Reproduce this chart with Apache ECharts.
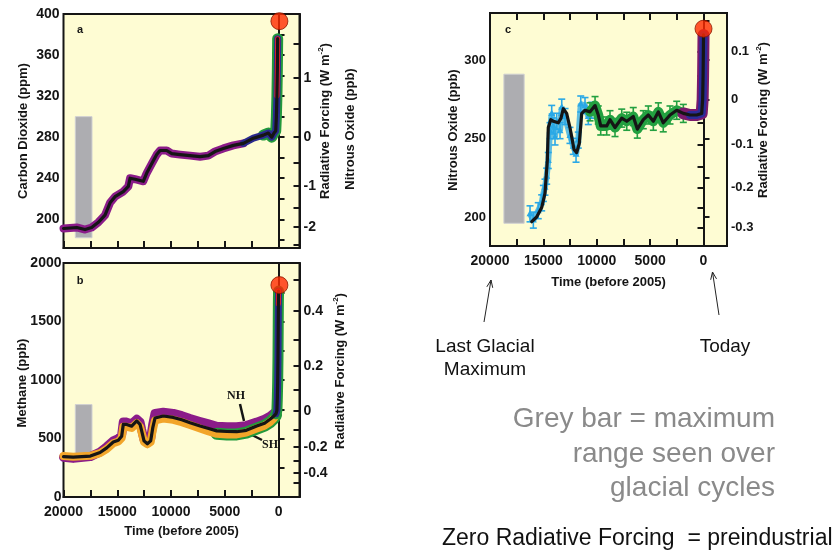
<!DOCTYPE html>
<html>
<head>
<meta charset="utf-8">
<script src="https://cdn.jsdelivr.net/npm/echarts@6/dist/echarts.min.js"></script>
<style>
  html, body { margin: 0; padding: 0; background: #fff; }
  #chart { width: 836px; height: 551px; }
</style>
</head>
<body>
<div id="chart"></div>
<script>
// ---- data (years before 2005, concentrations) ----
// a: carbon dioxide, ppm
const co2Years = [20000, 18770, 18000, 17380, 16760, 16140, 15670, 15210, 14440, 13970, 13810, 13350, 12580, 12260, 11800, 11330, 11020, 10400, 9930, 9160, 8230, 7300, 6530, 5910, 5130, 4200, 3270, 2340, 1410, 950, 630, 420, 260, 200, 150, 110, 80];
const co2Values = [191, 192, 190, 192, 197, 204, 216, 222, 227, 232, 240, 239, 237, 245, 254, 263, 267, 267, 264, 263, 262, 261, 262, 266, 269, 272, 274, 279, 282, 284, 280, 284, 286, 300, 320, 345, 376];

// b: methane, ppb (black = composite, NH / SH records)
const ch4Years = [20000, 19100, 17500, 16600, 15980, 15370, 14900, 14590, 14440, 14120, 13660, 13190, 12880, 12730, 12510, 12200, 11890, 11700, 11490, 10720, 9790, 9000, 8230, 7300, 6500, 5750, 4800, 3890, 3000, 2030, 1300, 790, 450, 230, 150, 110, 80, 50, 30, 15, 0];
const ch4Values = [345, 340, 350, 380, 420, 470, 485, 520, 620, 620, 605, 650, 620, 565, 480, 455, 480, 590, 675, 692, 680, 660, 635, 607, 585, 565, 560, 558, 570, 607, 630, 664, 690, 712, 740, 850, 980, 1200, 1450, 1650, 1760];
const ch4BandYears = [20000, 19100, 17500, 16600, 15980, 15370, 14900, 14590, 14440, 14120, 13660, 13190, 12880, 12730, 12510, 12200, 11890, 11700, 11490, 10720, 9790, 9000, 8230, 7300, 6500, 5750, 4800, 3890, 3000, 2030, 1300, 790, 450, 230];
const ch4NH = [340, 330, 345, 385, 430, 480, 500, 530, 640, 640, 625, 665, 640, 575, 490, 465, 500, 620, 715, 725, 715, 695, 670, 645, 625, 605, 600, 600, 610, 640, 665, 690, 715, 730];
const ch4SH = [350, 345, 352, 375, 410, 460, 475, 505, 600, 600, 590, 630, 600, 550, 470, 450, 470, 570, 655, 670, 660, 640, 615, 585, 560, 540, 535, 535, 550, 585, 610, 640, 670, 700];

// c: nitrous oxide, ppb
const n2oYears = [16090, 15630, 15160, 14850, 14630, 14540, 14310, 14070, 13600, 13350, 13130, 12820, 12510, 12130, 11880, 11630, 11410, 11100, 10630, 10160, 9860, 9630, 9070, 8760, 8290, 7660, 7190, 6580, 6200, 5640, 5170, 4700, 4230, 3770, 3140, 2510, 1890, 1260, 640, 170, 80, 40, 15, 0];
const n2oValues = [197, 200, 206, 215, 236, 257, 262, 261, 260, 263, 269, 266, 257, 243, 241, 247, 266, 268, 267, 271, 265, 258, 258, 262, 257, 263, 261, 264, 256, 262, 265, 261, 267, 260, 265, 268, 266, 265, 265, 266, 275, 290, 305, 316];
const n2oCyanYears = [16250, 15940, 15480, 15160, 15000, 14850, 14690, 14540, 14380, 14220, 14070, 13910, 13750, 13440, 13280, 12970, 12510, 12200, 11940, 11730, 11500, 11100, 10790, 10470];
const n2oCyanValues = [202, 198, 204, 209, 215, 219, 226, 236, 255, 266, 258, 251, 261, 255, 270, 264, 252, 245, 240, 249, 272, 271, 264, 268];

// today's values (red dots) and glacial-cycle ranges (grey bars)
const todayYears = [-80, -80, 0];
const todayValues = [393, 1811, 320];
const greyBarYears = [[18900, 17350], [18900, 17350], [18700, 16800]];
const greyBarRanges = [[182, 300], [320, 790], [196, 291]];

const xTicks = [20000, 17500, 15000, 12500, 10000, 7500, 5000, 2500, 0];
const xLabels = [20000, 15000, 10000, 5000, 0];

// radiative forcing scales (W m-2) for the right axes
const co2F = c => 5.35 * Math.log(c / 280);
const co2C = f => 280 * Math.exp(f / 5.35);
const ch4F = m => 0.0313 * (Math.sqrt(m) - 27.11);
const ch4C = f => Math.pow(27.11 + f / 0.0313, 2);
const n2oF = n => (Math.sqrt(n) - 16.583) / 8.95;
const n2oC = f => Math.pow(16.583 + 8.95 * f, 2);

const zip = (xs, ys) => xs.map((x, i) => [x, ys[i]]);
const pick = (xs, ys, lo, hi) => zip(xs, ys).filter(p => p[0] >= lo && p[0] <= hi);
const steps = (a, b, s) => { const r = []; for (let v = a; v <= b + 1e-9; v += s) r.push(+v.toFixed(3)); return r; };
const plain = v => String(Math.round(v));
const tenths = f => { const r = Math.round(f * 10) / 10; return String(r === 0 ? 0 : r); };

const FONT = "'Liberation Sans', Arial, Helvetica, sans-serif";
const INK = '#151515';
const CREAM = '#fefcd3';

const axisBase = {
  axisLine: { show: true, lineStyle: { color: INK, width: 2 } },
  axisTick: { show: true, inside: true, length: 6, lineStyle: { color: INK, width: 2 } },
  splitLine: { show: false },
  axisLabel: { color: INK, fontWeight: 'bold', fontSize: 14, fontFamily: FONT, margin: 4 }
};

function xAxis(grid, min, labels, extra) {
  return Object.assign({
    type: 'value', gridIndex: grid, min: min, max: 20000, inverse: true,
    axisLine: axisBase.axisLine,
    axisTick: Object.assign({}, axisBase.axisTick, { length: 7, customValues: xTicks }),
    splitLine: { show: false },
    axisLabel: labels ? Object.assign({}, axisBase.axisLabel, { margin: 8, customValues: xLabels, formatter: plain })
                      : { show: false, customValues: xLabels }
  }, extra || {});
}

function yAxis(grid, pos, min, max, labels, ticks, fmt, size, margin) {
  return {
    type: 'value', gridIndex: grid, position: pos, min: min, max: max,
    axisLine: axisBase.axisLine,
    axisTick: Object.assign({}, axisBase.axisTick, { customValues: ticks }),
    splitLine: { show: false },
    axisLabel: Object.assign({}, axisBase.axisLabel, {
      customValues: labels, formatter: fmt || plain, fontSize: size || 14, margin: margin || 4
    })
  };
}

function band(x, y, data, color, width, extra) {
  return Object.assign({
    type: 'line', xAxisIndex: x, yAxisIndex: y, data: data, symbol: 'none', silent: true,
    lineStyle: { color: color, width: width, cap: 'round', join: 'round' }
  }, extra || {});
}

function greyBar(x, y, i) {
  return band(x, y, [], '#000', 0, {
    markArea: {
      silent: true,
      itemStyle: { color: '#adadb1', borderColor: '#cfcfd2', borderWidth: 1 },
      data: [[{ coord: [greyBarYears[i][0], greyBarRanges[i][0]] },
              { coord: [greyBarYears[i][1], greyBarRanges[i][1]] }]]
    }
  });
}

function redDot(x, y, i) {
  return {
    type: 'scatter', xAxisIndex: x, yAxisIndex: y, clip: false, silent: true,
    symbolSize: 17, z: 5,
    itemStyle: { color: '#ff2a00', borderColor: '#8a1800', borderWidth: 1 },
    data: [[todayYears[i], todayValues[i]]]
  };
}

function errorBars(x, y, data, color, half) {
  return {
    type: 'custom', xAxisIndex: x, yAxisIndex: y, data: data, silent: true,
    encode: { x: 0, y: 1 },
    renderItem: function (params, api) {
      const p = api.coord([api.value(0), api.value(1)]);
      const s = { stroke: color, lineWidth: 1.6 };
      return {
        type: 'group', children: [
          { type: 'line', shape: { x1: p[0], y1: p[1] - half, x2: p[0], y2: p[1] + half }, style: s },
          { type: 'line', shape: { x1: p[0] - 3.5, y1: p[1] - half, x2: p[0] + 3.5, y2: p[1] - half }, style: s },
          { type: 'line', shape: { x1: p[0] - 3.5, y1: p[1] + half, x2: p[0] + 3.5, y2: p[1] + half }, style: s },
          { type: 'polygon', shape: { points: [[p[0], p[1] - 4], [p[0] - 3.5, p[1] + 2.5], [p[0] + 3.5, p[1] + 2.5]] }, style: { fill: color } }
        ]
      };
    }
  };
}

function vtext(x, y, text, extra) {
  return Object.assign({
    type: 'text', x: x, y: y, rotation: Math.PI / 2, silent: true,
    style: { text: text, fill: INK, fontFamily: FONT, fontWeight: 'bold', fontSize: 13, align: 'center', verticalAlign: 'middle' }
  }, extra || {});
}

function forcingTitle(x, y) {
  return {
    type: 'text', x: x, y: y, rotation: Math.PI / 2, silent: true,
    style: {
      text: '{t|Radiative Forcing (W m}{s|-2}{t|)}', align: 'center', verticalAlign: 'middle',
      rich: {
        t: { fill: INK, fontFamily: FONT, fontWeight: 'bold', fontSize: 13, lineHeight: 16 },
        s: { fill: INK, fontFamily: FONT, fontWeight: 'bold', fontSize: 8, lineHeight: 16, verticalAlign: 'top' }
      }
    }
  };
}

function text(x, y, str, size, color, align, extra) {
  return {
    type: 'text', x: x, y: y, silent: true,
    style: Object.assign({ text: str, fill: color, fontFamily: FONT, fontSize: size, align: align, verticalAlign: 'middle' }, extra || {})
  };
}

function arrow(x1, y1, x2, y2) {
  const a = Math.atan2(y2 - y1, x2 - x1), h = 8, w = 0.38;
  return [
    { type: 'line', silent: true, shape: { x1: x1, y1: y1, x2: x2, y2: y2 }, style: { stroke: '#222', lineWidth: 1 } },
    { type: 'polyline', silent: true, shape: { points: [[x2 - h * Math.cos(a - w), y2 - h * Math.sin(a - w)], [x2, y2], [x2 - h * Math.cos(a + w), y2 - h * Math.sin(a + w)]] },
      style: { stroke: '#222', lineWidth: 1, fill: null } }
  ];
}

const chart = echarts.init(document.getElementById('chart'));

const gridBox = { show: true, backgroundColor: CREAM, borderColor: INK, borderWidth: 2 };

chart.setOption({
  animation: false,
  textStyle: { fontFamily: FONT },
  grid: [
    Object.assign({ left: 63.5, top: 14, width: 236, height: 234 }, gridBox),
    Object.assign({ left: 63.5, top: 263, width: 236, height: 234 }, gridBox),
    Object.assign({ left: 490, top: 13, width: 237, height: 233 }, gridBox)
  ],
  xAxis: [
    xAxis(0, -1950, false),
    xAxis(1, -1950, true, {
      name: 'Time (before 2005)', nameLocation: 'middle', nameGap: 28,
      nameTextStyle: { color: INK, fontWeight: 'bold', fontSize: 13, fontFamily: FONT }
    }),
    xAxis(2, -2200, true, {
      name: 'Time (before 2005)', nameLocation: 'middle', nameGap: 30,
      nameTextStyle: { color: INK, fontWeight: 'bold', fontSize: 13, fontFamily: FONT }
    }),
    xAxis(2, -2200, false, { position: 'top' })
  ],
  yAxis: [
    yAxis(0, 'left', 172, 400, steps(200, 400, 40), steps(180, 400, 20)),
    yAxis(0, 'right', 172, 400, [-2, -1, 0, 1].map(co2C), steps(-2.5, 1.5, 0.5).map(co2C),
      v => plain(co2F(v))),
    yAxis(1, 'left', 0, 2000, steps(0, 2000, 500), steps(0, 2000, 250), null, 14, 2),
    yAxis(1, 'right', 0, 2000, [-0.4, -0.2, 0, 0.2, 0.4].map(ch4C), steps(-0.5, 0.5, 0.1).map(ch4C),
      v => tenths(ch4F(v))),
    yAxis(2, 'left', 181.5, 330, [200, 250, 300], steps(200, 325, 25), null, 13),
    yAxis(2, 'right', 181.5, 330, [-0.3, -0.2, -0.1, 0, 0.1].map(n2oC), steps(-0.3, 0.1, 0.05).map(n2oC),
      v => tenths(n2oF(v)), 13)
  ],
  series: [
    // a: CO2
    greyBar(0, 0, 0),
    band(0, 0, pick(co2Years, co2Values, 2800, 20000), '#8b1c89', 8),
    band(0, 0, pick(co2Years, co2Values, 0, 1500), '#22993c', 11),
    band(0, 0, pick(co2Years, co2Values, 0, 3500), '#2a2a8e', 7),
    band(0, 0, pick(co2Years, co2Values, 0, 150), '#e8202a', 5),
    band(0, 0, zip(co2Years, co2Values), INK, 3.2),
    redDot(0, 0, 0),

    // b: CH4
    greyBar(1, 2, 1),
    band(1, 2, zip(ch4BandYears, ch4NH), '#8b1c89', 9),
    band(1, 2, pick(ch4BandYears, ch4SH, 0, 5750), '#22993c', 12),
    band(1, 2, zip(ch4BandYears, ch4SH), '#f2a52a', 8),
    band(1, 2, pick(ch4Years, ch4Values, 0, 230), '#22993c', 11),
    band(1, 2, pick(ch4Years, ch4Values, 0, 230), '#2a2a8e', 7),
    band(1, 2, pick(ch4Years, ch4Values, 0, 15), '#e8202a', 5),
    band(1, 2, zip(ch4Years, ch4Values), INK, 3.2),
    redDot(1, 2, 1),

    // c: N2O
    greyBar(2, 4, 2),
    band(2, 4, zip(n2oCyanYears, n2oCyanValues), '#2aa8e6', 6, { lineStyle: { color: '#2aa8e6', width: 6, opacity: 0.75 } }),
    errorBars(2, 4, zip(n2oCyanYears, n2oCyanValues), '#2aa8e6', 8),
    band(2, 4, pick(n2oYears, n2oValues, 1500, 10800), '#23a040', 10),
    errorBars(2, 4, pick(n2oYears, n2oValues, 1500, 10800), '#23a040', 9),
    band(2, 4, pick(n2oYears, n2oValues, 0, 2300), '#7a1a6c', 12),
    band(2, 4, pick(n2oYears, n2oValues, 0, 1300), '#2b2b98', 8),
    band(2, 4, zip(n2oYears, n2oValues), INK, 3.2),
    redDot(2, 4, 2)
  ],
  graphic: [
    // axis titles
    vtext(23, 131, 'Carbon Dioxide (ppm)'),
    forcingTitle(325, 121),
    vtext(350, 129, 'Nitrous Oxide (ppb)'),
    vtext(22, 383, 'Methane (ppb)'),
    forcingTitle(340, 371),
    vtext(453, 130, 'Nitrous Oxide (ppb)'),
    forcingTitle(763, 120),
    // panel letters
    text(80, 30, 'a', 11, INK, 'center', { fontWeight: 'bold' }),
    text(80, 281, 'b', 11, INK, 'center', { fontWeight: 'bold' }),
    text(508, 30, 'c', 11, INK, 'center', { fontWeight: 'bold' }),
    // hemisphere labels
    text(236, 396, 'NH', 12, INK, 'center', { fontWeight: 'bold', fontFamily: "'Liberation Serif', 'DejaVu Serif', serif" }),
    text(270, 445, 'SH', 12, INK, 'center', { fontWeight: 'bold', fontFamily: "'Liberation Serif', 'DejaVu Serif', serif" }),
    { type: 'line', silent: true, shape: { x1: 240, y1: 404, x2: 244, y2: 421 }, style: { stroke: INK, lineWidth: 2.5 } },
    { type: 'line', silent: true, shape: { x1: 248, y1: 433, x2: 262, y2: 440 }, style: { stroke: INK, lineWidth: 2.5 } },
    // annotations
    ...arrow(484, 322, 491, 280),
    ...arrow(719, 315, 712.5, 272),
    text(485, 347, 'Last Glacial', 19, '#111', 'center'),
    text(485, 370, 'Maximum', 19, '#111', 'center'),
    text(725, 347, 'Today', 19, '#111', 'center'),
    text(775, 419, 'Grey bar = maximum', 28, '#8a8a8a', 'right'),
    text(775, 454, 'range seen over', 28, '#8a8a8a', 'right'),
    text(775, 488, 'glacial cycles', 28, '#8a8a8a', 'right'),
    text(442, 539, 'Zero Radiative Forcing  = preindustrial', 23, '#111', 'left')
  ]
});
</script>
</body>
</html>
